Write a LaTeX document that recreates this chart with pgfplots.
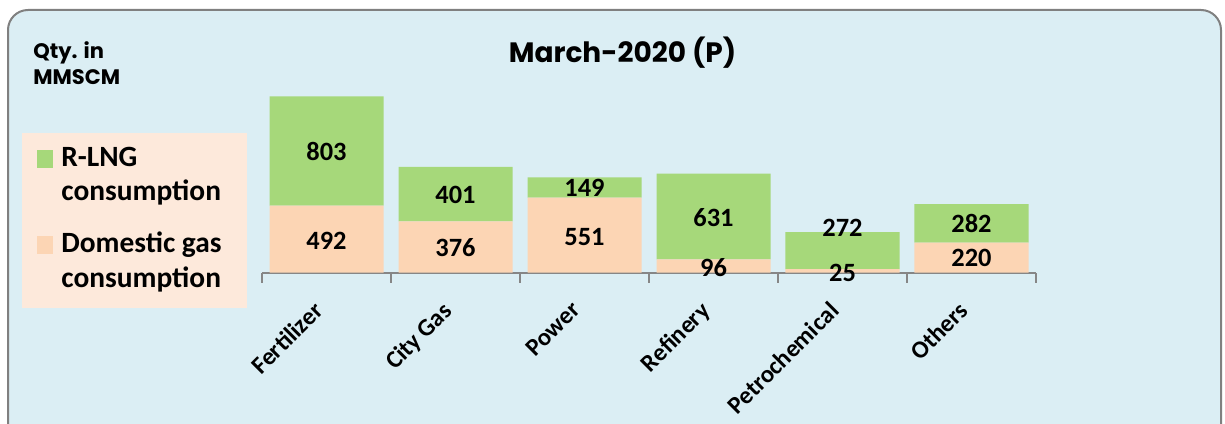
\documentclass[border=0pt]{standalone}
\usepackage{pgfplots}
\pgfplotsset{compat=1.18}
\usepackage{fontspec}
\setmainfont{Carlito}
\newfontfamily\titlefont{Poppins}
\definecolor{rlng}{RGB}{166,216,122}
\definecolor{dom}{RGB}{252,213,180}
\definecolor{panel}{RGB}{219,238,244}
\definecolor{legbg}{RGB}{253,233,219}
\definecolor{axgray}{RGB}{134,134,134}
\newcommand{\lt}[1]{\makebox[85.5pt][l]{#1}}
\pgfplotsset{chartgeom/.style={
  at={(131pt,75.25pt)}, anchor=south west,
  scale only axis, width=387pt, height=95.2pt,
  xmin=-0.5, xmax=5.5, ymin=0, ymax=1400, clip=false}}
\begin{document}
\begin{tikzpicture}[x=1pt,y=1pt]
\useasboundingbox (0pt,0pt) rectangle (612.5pt,211.5pt);
\clip (0pt,0pt) rectangle (612.5pt,211.5pt);
\fill[white] (0pt,0pt) rectangle (612.5pt,211.5pt);
\draw[fill=panel, draw=gray, line width=1pt, rounded corners=10pt] (4pt,-12pt) rectangle (610.5pt,206.5pt);
\node[font=\titlefont\bfseries\fontsize{14}{17}\selectfont, inner sep=0pt] at (311.25pt,185pt) {March-2020 (P)};
\node[anchor=north west, align=left, font=\titlefont\bfseries\fontsize{10.5}{13}\selectfont, inner sep=0pt] at (16.5pt,191pt) {Qty. in\\MMSCM};
\begin{axis}[
  chartgeom,
  ybar stacked, bar width=57pt,
  axis x line*=bottom, axis y line=none,
  x axis line style={axgray, line width=1pt},
  xtick={0,...,5},
  xticklabels={Fertilizer,City Gas,Power,Refinery,Petrochemical,Others},
  major tick length=0pt,
  minor xtick={-0.5,0.5,...,5.5},
  minor tick length=5pt,
  tick align=outside,
  minor x tick style={axgray, line width=1pt},
  xticklabel style={font=\bfseries\fontsize{12.3}{15}\selectfont, xshift=-7.2pt, yshift=-12.3pt, rotate=45, anchor=north east, inner sep=1pt},
  legend image code/.code={\fill[#1] (0pt,-0.5pt) rectangle (8pt,8.5pt);},
  legend style={at={(-0.3101,0.7354)}, anchor=north west, fill=legbg, draw=none,
    inner xsep=7.5pt, inner ysep=5pt, column sep=4pt, row sep=0pt,
    nodes={inner sep=0pt, anchor=base west},
    font=\bfseries\fontsize{14.7}{17}\selectfont},
]
\addlegendimage{fill=rlng, draw=none}
\addlegendentry[text height=12pt, text depth=5pt]{\lt{R-LNG}}
\addlegendimage{empty legend}
\addlegendentry[text height=12pt, text depth=5pt]{\lt{consumption}}
\addlegendimage{fill=dom, draw=none}
\addlegendentry[text height=20.85pt, text depth=5pt]{\lt{Domestic gas}}
\addlegendimage{empty legend}
\addlegendentry[text height=12.5pt, text depth=5pt]{\lt{consumption}}
\addplot[fill=dom, draw=none, forget plot] coordinates {(0,492) (1,376) (2,551) (3,96) (4,25) (5,220)};
\addplot[fill=rlng, draw=none, forget plot] coordinates {(0,803) (1,401) (2,149) (3,631) (4,272) (5,282)};
\end{axis}
\begin{axis}[
  chartgeom, hide axis,
  nodes near coords,
  point meta=explicit symbolic,
  every node near coord/.append style={anchor=center, inner sep=0pt, font=\bfseries\fontsize{13.2}{16}\selectfont, black},
]
\addplot[draw=none, mark=none] table[meta=lab] {
x y lab
0 231.6 492
0 888 803
1 180 376
1 570 401
2 261 551
2 621 149
3 35 96
3 401 631
4 -1.5 25
4 329 272
5 107 220
5 357 282
};
\end{axis}
\end{tikzpicture}
\end{document}
